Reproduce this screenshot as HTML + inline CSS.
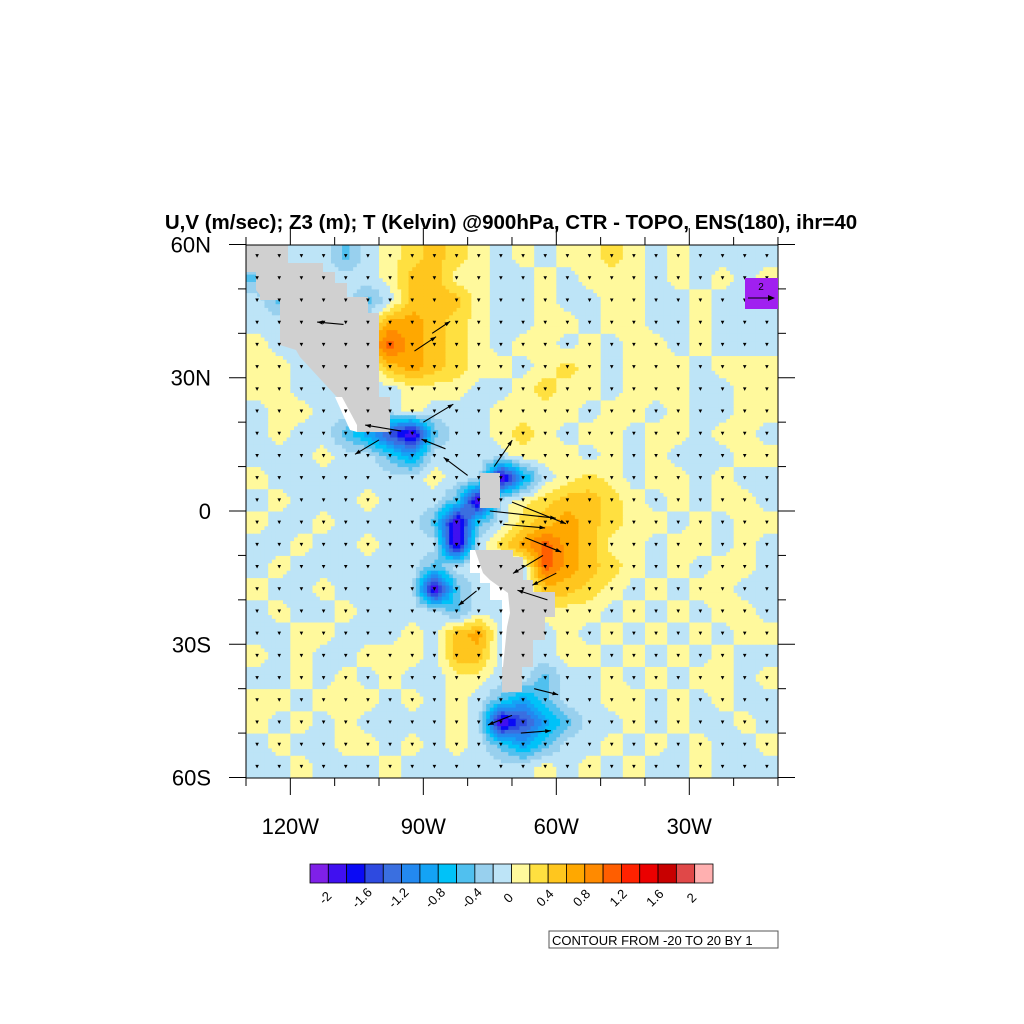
<!DOCTYPE html>
<html><head><meta charset="utf-8"><style>
html,body{margin:0;padding:0;background:#fff}
svg{display:block;font-family:"Liberation Sans",sans-serif}
</style></head><body>
<svg id="chart" width="1024" height="1024" viewBox="0 0 1024 1024" xmlns="http://www.w3.org/2000/svg">
<text x="511" y="229" text-anchor="middle" font-size="20.5" font-weight="bold">U,V (m/sec); Z3 (m); T (Kelvin) @900hPa, CTR - TOPO, ENS(180), ihr=40</text>
<defs><clipPath id="pc"><rect x="246" y="245" width="532" height="533"/></clipPath></defs>
<g id="field" clip-path="url(#pc)"></g>
<g id="land" clip-path="url(#pc)">
<polygon fill="#d0d0d0" points="246,245 288,245 288,263 323,263 323,272 335,272 335,283 347,283 347,297 368,297 368,313 379,313 379,397 390,397 390,432 357,432 345,405 335,395 300,357 296,350 280,345 280,300 260,300 260,295 256,290 256,272 246,272"/>
<polygon fill="#fff" points="335,397 342,397 357,425 357,432 350,430"/>
<polygon fill="#d0d0d0" points="480,473 500,473 500,508 480,508"/>
<polygon fill="#d0d0d0" points="470,550 513,550 513,557 523,557 523,580 533,580 533,592 555,592 555,617 545,617 545,640 533,640 533,667 522,667 522,692 502,692 502,600 490,600 490,583 480,583 480,573 470,573"/>
<polygon fill="#fff" points="470,550 475,550 483,573 490,580 508,593 510,613 507,627 503,667 502,667 502,600 490,600 490,583 480,583 480,573 470,573"/>
</g>
<g id="arrows" clip-path="url(#pc)"></g>
<rect x="246" y="245" width="532" height="533" fill="none" stroke="#000" stroke-width="1"/>
<g id="ticks" stroke="#000" stroke-width="1"></g>
<g id="labels" font-size="22"></g>
<g>
<rect x="745" y="278" width="33" height="31" fill="#a020f0"/>
<text x="761" y="290" font-size="10" text-anchor="middle">2</text>
<line x1="748" y1="298" x2="772" y2="298" stroke="#000" stroke-width="1"/>
<polygon points="775,298 768,295 768,301" fill="#000"/>
</g>
<g id="cbar"></g>
<g>
<rect x="549" y="931" width="229" height="17" fill="#fff" stroke="#555" stroke-width="1"/>
<text x="552" y="945" font-size="13">CONTOUR FROM -20 TO 20 BY 1</text>
</g>
</svg>
<script>
const colors=["#7f20e8","#4010f0","#0a0af5","#2e4ae0","#3a6fe0","#2389f0","#14a3f5","#00c2f8","#50c0ef","#98d0ee","#bde4f7","#fff99c","#ffe040","#ffc61e","#ffa800","#ff8a00","#ff5e00","#ff2200","#eb0000","#c80000","#e04848","#ffb0b0"];
const cbarLabels=["-2","-1.6","-1.2","-0.8","-0.4","0","0.4","0.8","1.2","1.6","2"];
const fieldRows=[
"ggbbMbyYoYybybyyYybybbbb",
"Mggggbyooyybbybyyybybyby",
"bMgggMboooybbybbyybbybbb",
"bbgggbOOoYybbyybyybbybbb",
"ybbggOrOoYybyybybyybybbb",
"yybbggoOoYyybyYybyyybyyy",
"yybbbgbyyybbyYyybyyybbyy",
"byybbbbybbbyyyybyybybbyy",
"bybbMBDPMbbyYybyybyybyyb",
"bbbybbMBbbbbyyybybybbbyy",
"ybbbbbbbybbPBbyYybyybybb",
"bybbbybbbMPgyYooYybybyyb",
"ybbybbbbMPMbYoOoYyybybyy",
"bbybbybbbPgYOrOoyybyybyb",
"bybbbbbbMgggbrOoYybybyyb",
"ybbybbbbPMgggooYybybyybb",
"bybbybbbbMgggyyybybybyyb",
"bbyybbbyboOggbybybybybyy",
"ybybbyyyboogbbyybybybybb",
"bbybybybbyygbMbbybybyyby",
"yybyyybybybMBMbbyybybybb",
"ybybybbbbybPDBMbbybybbyb",
"bybbyybybybMBMbbybybybby",
"bbybbbybbbbbbybybybbybbb"];
const codeLevel={b:10,y:11,Y:12,o:13,O:14,r:16,M:8,B:6,D:3,P:0,g:10};
const arrLon=[-75,-70,-72,-67,-63,-78,-95,-90,-100,-85,-60,-62,-108,-92,-88,-70,-68,-65,-80,-74];
const arrLat=[0,2,-3,-6,-10,-18,18,20,16,14,-14,-20,42,36,40,-46,-50,-40,8,10];
const arrU=[5.5,4.5,3.5,3,-2.5,-1.5,-3,2.5,-2,-2,-2,-2.5,-2.2,1.8,1.5,-2,2.5,2,-2,1.5];
const arrV=[-0.6,-1.8,-0.3,-1.2,-1.5,-1.2,0.5,1.5,-1.2,0.8,-1.0,0.8,0.2,1.2,1.0,-0.8,0.2,-0.5,1.5,2.2];
const X=lon=>246+(lon+130)*4.433, Y=lat=>511-lat*4.442;
const NS="http://www.w3.org/2000/svg";
function mk(t,a,p){const e=document.createElementNS(NS,t);for(const k in a)e.setAttribute(k,a[k]);p.appendChild(e);return e;}
const F=document.getElementById('field');
const nr=fieldRows.length,nc=fieldRows[0].length;
const lv=fieldRows.map(r=>r.split('').map(c=>codeLevel[c]));
function val(fr,fc){fr=Math.max(0,Math.min(nr-1,fr));fc=Math.max(0,Math.min(nc-1,fc));
const r0=Math.floor(fr),c0=Math.floor(fc),r1=Math.min(nr-1,r0+1),c1=Math.min(nc-1,c0+1),a=fr-r0,b=fc-c0;
return lv[r0][c0]*(1-a)*(1-b)+lv[r0][c1]*(1-a)*b+lv[r1][c0]*a*(1-b)+lv[r1][c1]*a*b;}
const sub=6,cw=532/(nc*sub),ch=533/(nr*sub);
for(let i=0;i<nr*sub;i++)for(let j=0;j<nc*sub;j++){
const v=val((i+0.5)/sub-0.5,(j+0.5)/sub-0.5);const k=Math.max(0,Math.min(21,Math.round(v)));
const r=mk('rect',{x:(246+j*cw).toFixed(2),y:(245+i*ch).toFixed(2),width:(cw+0.6).toFixed(2),height:(ch+0.6).toFixed(2),fill:colors[k]},F);

}
const A=document.getElementById('arrows');
for(let lat=57.5;lat>-60;lat-=5)for(let lon=-127.5;lon<-10;lon+=5){
const x=X(lon),y=Y(lat);
const t=mk('polygon',{points:`${x},${y+2} ${x-1.8},${y-1.5} ${x+1.8},${y-1.5}`,fill:'#000'},A);

}
const sc=12;
for(let i=0;i<arrLon.length;i++){
const x1=X(arrLon[i]),y1=Y(arrLat[i]),x2=x1+arrU[i]*sc,y2=y1-arrV[i]*sc;
const g=mk('g',{},A);


mk('line',{x1,y1,x2,y2,stroke:'#000','stroke-width':1.1},g);
const ang=Math.atan2(y2-y1,x2-x1),L=6;
mk('polygon',{points:`${x2},${y2} ${x2-L*Math.cos(ang-0.35)},${y2-L*Math.sin(ang-0.35)} ${x2-L*Math.cos(ang+0.35)},${y2-L*Math.sin(ang+0.35)}`,fill:'#000'},g);}
const T=document.getElementById('ticks'),Lb=document.getElementById('labels');
for(let lon=-130;lon<=-10;lon+=10){const x=X(lon),maj=(lon%30===0);const l=maj?17:8;
mk('line',{x1:x,y1:245,x2:x,y2:245-l},T);mk('line',{x1:x,y1:778,x2:x,y2:778+l},T);
if(maj){const t=mk('text',{x:x,y:834,'text-anchor':'middle'},Lb);t.textContent=(-lon)+'W';
}}
for(let lat=60;lat>=-60;lat-=10){const y=Y(lat),maj=(lat%30===0);const l=maj?17:8;
mk('line',{x1:246,y1:y,x2:246-l,y2:y},T);mk('line',{x1:778,y1:y,x2:778+l,y2:y},T);
if(maj){const t=mk('text',{x:211,y:y+8,'text-anchor':'end'},Lb);t.textContent=lat===0?'0':(Math.abs(lat)+(lat>0?'N':'S'));
}}
const C=document.getElementById('cbar');const bw=403/22;
colors.forEach((c,i)=>{const r=mk('rect',{x:310+i*bw,y:864,width:bw,height:19,fill:c,stroke:'#000','stroke-width':0.8},C);
});
cbarLabels.forEach((s,i)=>{const x=310+bw*(1+2*i),y=901;
const t=mk('text',{x:x,y:y,'font-size':13,'text-anchor':'middle',transform:`rotate(-45 ${x} ${y})`},C);t.textContent=s;
});
</script>
</body></html>
